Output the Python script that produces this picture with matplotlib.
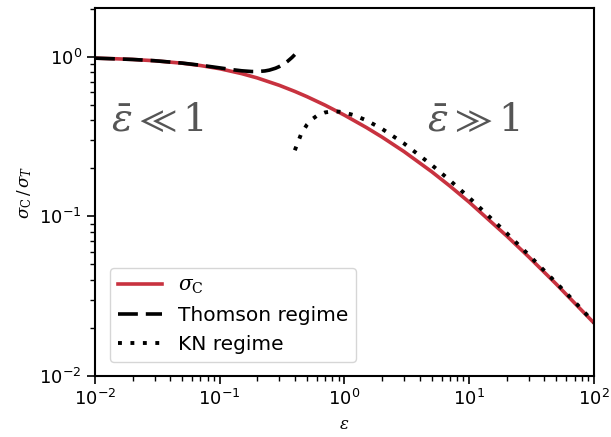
import numpy as np
import matplotlib
matplotlib.use("Agg")
import matplotlib.pyplot as plt

# values
eps_c = [0.01, 0.015, 0.02, 0.03, 0.05, 0.07, 0.1, 0.15, 0.2, 0.3, 0.4, 0.5,
         0.7, 1.0, 1.5, 2.0, 3.0, 5.0, 7.0, 10.0, 20.0, 30.0, 50.0, 100.0]
sigma_c = [0.9805, 0.9711, 0.9620, 0.9443, 0.9115, 0.8815, 0.8417, 0.7843,
           0.7369, 0.6627, 0.6067, 0.5628, 0.4973, 0.4307, 0.3603, 0.3141,
           0.2549, 0.1907, 0.1550, 0.1228, 0.0754, 0.0558, 0.0376, 0.0215]

eps_th = [0.01, 0.02, 0.03, 0.05, 0.07, 0.1, 0.13, 0.15, 0.18, 0.2, 0.23,
          0.25, 0.28, 0.3, 0.33, 0.35, 0.38, 0.4]
sigma_th = [0.9805, 0.9621, 0.9447, 0.9130, 0.8855, 0.8520, 0.8279, 0.8170,
            0.8085, 0.8080, 0.8151, 0.8250, 0.8477, 0.8680, 0.9063, 0.9370,
            0.9909, 1.0320]

eps_kn = [0.4, 0.45, 0.5, 0.55, 0.6, 0.7, 0.8, 0.9, 1.0, 1.2, 1.5, 2.0, 3.0,
          5.0, 7.0, 10.0, 20.0, 30.0, 50.0, 70.0, 100.0]
sigma_kn = [0.2596, 0.3289, 0.3750, 0.4059, 0.4265, 0.4481, 0.4547, 0.4532,
            0.4474, 0.4298, 0.3997, 0.3537, 0.2865, 0.2102, 0.1682, 0.1311,
            0.0785, 0.0574, 0.0383, 0.0292, 0.0217]

red = "#c8323f"

fig = plt.figure(figsize=(6.11, 4.37), dpi=100)
ax = fig.add_axes([0.1555, 0.1396, 0.8165, 0.842])

ax.plot(eps_c, sigma_c, color=red, linewidth=2.6, label=r"$\sigma_{\rm C}$")
ax.plot(eps_th, sigma_th, color="black", linewidth=2.6, linestyle=(0, (5.5, 2.2)),
        label="Thomson regime")
ax.plot(eps_kn, sigma_kn, color="black", linewidth=2.8, linestyle=(0, (1, 2.2)),
        label="KN regime")

ax.set_xscale("log")
ax.set_yscale("log")
ax.set_xlim(1e-2, 1e2)
ax.set_ylim(1e-2, 2.02)

ax.text(0.0135, 0.40, r"$\bar{\epsilon} \ll 1$", fontsize=28, color="#555555",
        va="center", ha="left", math_fontfamily="dejavuserif")
ax.text(4.6, 0.40, r"$\bar{\epsilon} \gg 1$", fontsize=28, color="#555555",
        va="center", ha="left", math_fontfamily="dejavuserif")

ax.set_xlabel(r"$\epsilon$", fontsize=12, math_fontfamily="dejavuserif")
ax.set_ylabel(r"$\sigma_{\rm C}\,/\,\sigma_T$", fontsize=12,
              math_fontfamily="dejavuserif")
ax.tick_params(which="major", labelsize=13, length=6, width=1.2)
ax.tick_params(which="minor", length=3.5, width=1.0)
for s in ax.spines.values():
    s.set_linewidth(1.5)

leg = ax.legend(loc="lower left", fontsize=14.5, handlelength=2.2,
                bbox_to_anchor=(0.005, 0.005), borderaxespad=0.6)
for t in leg.get_texts():
    t.set_math_fontfamily("dejavuserif")

fig.savefig("out.png", dpi=100)
